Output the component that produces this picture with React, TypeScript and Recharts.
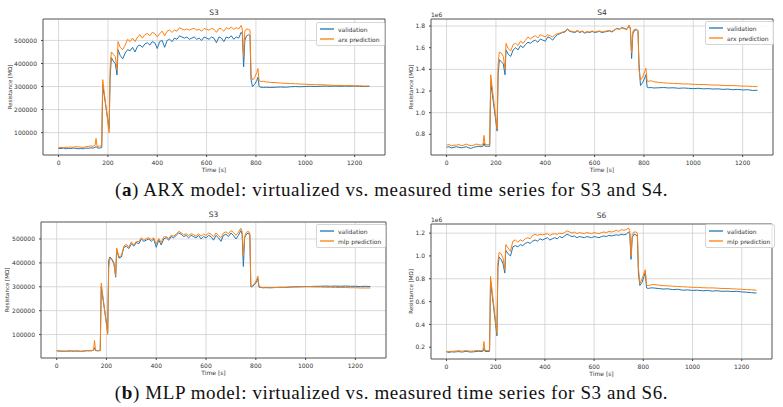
import React from 'react'
import {
  LineChart,
  Line,
  XAxis,
  YAxis,
  CartesianGrid,
  Legend,
  ReferenceArea
} from 'recharts'

// sample times [s], shared by all four panels
const times = [
  0, 10, 20, 30, 40, 50, 60, 70, 80, 90, 100, 110, 120, 130, 140,
  148, 152, 156, 165, 175, 179, 205, 209, 214, 222, 230, 237, 241,
  250, 260, 270, 280, 290, 300, 310, 320, 330, 340, 350, 360, 370, 380, 390,
  400, 410, 420, 430, 440, 450, 460, 470, 480, 490, 500, 510, 520, 530, 540,
  550, 560, 570, 580, 590, 600, 610, 620, 630, 640, 650, 660, 670, 680, 690,
  700, 710, 720, 730, 740,
  745, 750, 755, 762, 770, 776, 780, 786, 795, 803, 808, 813, 820, 830, 840,
  860, 880, 900, 920, 940, 960, 980, 1000, 1020, 1040, 1060, 1080, 1100, 1120,
  1140, 1160, 1180, 1200, 1220, 1240, 1260
]

// (a) ARX, S3
const arxS3Validation = [
  32000, 31000, 33000, 30000, 32000, 31000, 33000, 32000, 30000, 31000, 30000, 33000, 32000, 34000, 33000,
  36000, 40000, 34000, 33000, 35000, 305000, 118000, 340000, 425000, 410000, 400000, 350000, 460000,
  435000, 420000, 445000, 460000, 455000, 470000, 450000, 475000, 480000, 470000, 485000, 490000, 480000, 495000, 490000,
  465000, 495000, 500000, 470000, 500000, 505000, 495000, 510000, 505000, 520000, 515000, 510000, 515000, 505000, 510000,
  515000, 505000, 510000, 500000, 515000, 510000, 505000, 515000, 510000, 490000, 515000, 510000, 495000, 515000, 510000,
  520000, 505000, 515000, 510000, 535000,
  525000, 385000, 500000, 520000, 525000, 520000, 330000, 300000, 310000, 325000, 340000, 300000, 297000, 296000, 297000,
  296000, 297000, 298000, 297000, 299000, 300000, 299000, 300000, 301000, 300000, 301000, 302000, 301000, 302000,
  301000, 302000, 301000, 302000, 301000, 300000, 301000
]
const arxS3Prediction = [
  35000, 36000, 35000, 37000, 36000, 38000, 37000, 39000, 38000, 37000, 36000, 39000, 40000, 42000, 41000,
  45000, 75000, 40000, 42000, 42000, 330000, 100000, 380000, 450000, 440000, 430000, 370000, 495000,
  470000, 460000, 480000, 505000, 495000, 510000, 495000, 515000, 525000, 510000, 525000, 530000, 520000, 535000, 530000,
  515000, 530000, 540000, 520000, 540000, 545000, 535000, 545000, 540000, 555000, 550000, 545000, 550000, 545000, 550000,
  552000, 545000, 548000, 540000, 552000, 548000, 545000, 552000, 548000, 535000, 552000, 550000, 540000, 555000, 550000,
  558000, 548000, 555000, 550000, 565000,
  545000, 430000, 540000, 550000, 548000, 545000, 350000, 328000, 340000, 360000, 378000, 325000, 322000, 323000, 320000,
  318000, 317000, 315000, 314000, 313000, 312000, 311000, 310000, 309000, 308000, 308000, 307000, 306000, 305000,
  305000, 304000, 304000, 303000, 303000, 302000, 302000
]

// (a) ARX, S4 (x1e6)
const arxS4Validation = [
  0.68, 0.685, 0.675, 0.68, 0.685, 0.68, 0.675, 0.68, 0.685, 0.675, 0.67, 0.68, 0.685, 0.69, 0.685,
  0.69, 0.72, 0.69, 0.69, 0.69, 1.28, 0.83, 1.35, 1.49, 1.47, 1.45, 1.35, 1.58,
  1.54, 1.52, 1.58, 1.6, 1.58, 1.62, 1.6, 1.63, 1.65, 1.64, 1.66, 1.67, 1.65, 1.68, 1.67,
  1.66, 1.7, 1.69, 1.67, 1.7, 1.72, 1.73, 1.74, 1.745, 1.77, 1.75, 1.745, 1.74, 1.755, 1.74,
  1.75, 1.735, 1.745, 1.74, 1.75, 1.74, 1.745, 1.75, 1.74, 1.745, 1.75, 1.755, 1.745, 1.76, 1.78,
  1.77, 1.785, 1.78, 1.77, 1.8,
  1.78, 1.5, 1.73, 1.76, 1.765, 1.75, 1.45, 1.25, 1.28, 1.32, 1.35, 1.235, 1.23, 1.232, 1.228,
  1.23, 1.232, 1.228, 1.23, 1.225, 1.228, 1.225, 1.222, 1.225, 1.22, 1.222, 1.218, 1.22, 1.215,
  1.218, 1.212, 1.215, 1.21, 1.212, 1.205, 1.207
]
const arxS4Prediction = [
  0.7, 0.705, 0.695, 0.7, 0.7, 0.705, 0.695, 0.7, 0.71, 0.7, 0.695, 0.7, 0.71, 0.705, 0.7,
  0.71, 0.79, 0.705, 0.705, 0.71, 1.35, 0.85, 1.45, 1.56, 1.55, 1.52, 1.4, 1.64,
  1.59, 1.57, 1.63, 1.64, 1.62, 1.66, 1.64, 1.67, 1.7, 1.68, 1.7, 1.71, 1.69, 1.72, 1.71,
  1.7, 1.72, 1.71, 1.7, 1.72, 1.73, 1.735, 1.745, 1.75, 1.775, 1.755, 1.75, 1.745, 1.76, 1.745,
  1.755, 1.74, 1.75, 1.745, 1.755, 1.745, 1.75, 1.755, 1.745, 1.75, 1.755, 1.76, 1.75, 1.765, 1.775,
  1.77, 1.78, 1.775, 1.765, 1.81,
  1.77, 1.55, 1.75, 1.77, 1.77, 1.76, 1.4, 1.3, 1.33, 1.38, 1.41, 1.29, 1.29, 1.295, 1.285,
  1.28, 1.275, 1.272, 1.27, 1.268, 1.265, 1.265, 1.262, 1.26, 1.26, 1.258, 1.255, 1.255, 1.252,
  1.25, 1.25, 1.248, 1.245, 1.245, 1.242, 1.24
]

// (b) MLP, S3
const mlpS3Validation = [
  32000, 31000, 30000, 31000, 30000, 32000, 31000, 30000, 32000, 31000, 30000, 31000, 33000, 32000, 33000,
  34000, 45000, 33000, 32000, 33000, 300000, 110000, 410000, 425000, 415000, 400000, 340000, 455000,
  420000, 425000, 465000, 470000, 460000, 480000, 470000, 485000, 480000, 500000, 490000, 495000, 500000, 490000, 500000,
  465000, 495000, 475000, 500000, 505000, 495000, 510000, 505000, 515000, 525000, 520000, 510000, 515000, 505000, 515000,
  510000, 505000, 515000, 500000, 510000, 505000, 515000, 510000, 495000, 515000, 505000, 490000, 515000, 520000, 510000,
  525000, 515000, 500000, 515000, 535000,
  520000, 385000, 505000, 520000, 525000, 515000, 300000, 300000, 310000, 320000, 335000, 298000, 297000, 296000, 297000,
  296000, 297000, 298000, 297000, 299000, 300000, 300000, 301000, 301000, 302000, 302000, 303000, 302000, 303000,
  302000, 303000, 302000, 302000, 301000, 302000, 301000
]
const mlpS3Prediction = [
  33000, 32000, 31000, 30000, 31000, 30000, 32000, 31000, 30000, 29000, 30000, 31000, 32000, 33000, 32000,
  35000, 75000, 35000, 33000, 34000, 315000, 100000, 380000, 420000, 410000, 395000, 345000, 462000,
  425000, 430000, 470000, 478000, 465000, 488000, 475000, 490000, 488000, 505000, 495000, 502000, 505000, 498000, 505000,
  478000, 502000, 485000, 508000, 510000, 502000, 515000, 512000, 520000, 532000, 526000, 518000, 522000, 515000, 522000,
  518000, 512000, 522000, 512000, 520000, 515000, 525000, 520000, 510000, 525000, 515000, 505000, 525000, 530000, 522000,
  535000, 528000, 515000, 528000, 545000,
  530000, 430000, 510000, 528000, 532000, 525000, 305000, 302000, 315000, 328000, 345000, 300000, 298000, 296000, 296000,
  296000, 297000, 297000, 298000, 299000, 299000, 300000, 300000, 300000, 299000, 299000, 298000, 298000, 297000,
  297000, 297000, 296000, 296000, 295000, 295000, 295000
]

// (b) MLP, S6 (x1e6)
const mlpS6Validation = [
  0.16, 0.155, 0.16, 0.158, 0.16, 0.162, 0.158, 0.16, 0.165, 0.16, 0.158, 0.16, 0.162, 0.165, 0.163,
  0.165, 0.19, 0.165, 0.162, 0.165, 0.78, 0.3, 0.9, 0.99, 0.97, 0.93, 0.85, 1.05,
  1.02, 1.0, 1.08, 1.09, 1.08, 1.1, 1.09, 1.11, 1.12, 1.11, 1.13, 1.14, 1.13, 1.15, 1.14,
  1.15, 1.16, 1.14, 1.15, 1.16, 1.15, 1.17, 1.16, 1.175, 1.19, 1.18, 1.17, 1.175, 1.16, 1.17,
  1.165, 1.16, 1.17, 1.165, 1.16, 1.17, 1.165, 1.16, 1.17, 1.175, 1.17, 1.18, 1.175, 1.18, 1.185,
  1.18, 1.19, 1.185, 1.19, 1.21,
  1.19, 0.97, 1.16, 1.19, 1.185, 1.17, 0.85, 0.74, 0.77, 0.82, 0.86, 0.72, 0.715, 0.72, 0.72,
  0.715, 0.71, 0.712, 0.705, 0.708, 0.7, 0.702, 0.698, 0.7, 0.695, 0.698, 0.692, 0.695, 0.69,
  0.692, 0.688, 0.69, 0.685, 0.682, 0.678, 0.675
]
const mlpS6Prediction = [
  0.165, 0.162, 0.165, 0.165, 0.168, 0.17, 0.165, 0.168, 0.17, 0.168, 0.165, 0.168, 0.17, 0.172, 0.17,
  0.172, 0.25, 0.172, 0.17, 0.172, 0.82, 0.32, 0.95, 1.03, 1.02, 0.98, 0.88, 1.1,
  1.07, 1.04, 1.13, 1.14, 1.12, 1.14, 1.13, 1.15, 1.16, 1.15, 1.18, 1.19, 1.18, 1.19, 1.185,
  1.19, 1.195, 1.18, 1.19, 1.195, 1.19, 1.2, 1.195, 1.205, 1.22, 1.21, 1.2, 1.21, 1.195, 1.205,
  1.2, 1.195, 1.205, 1.2, 1.195, 1.205, 1.2, 1.195, 1.205, 1.21, 1.205, 1.215, 1.21, 1.215, 1.225,
  1.215, 1.23, 1.225, 1.23, 1.245,
  1.22, 1.0, 1.19, 1.21, 1.21, 1.2, 0.9, 0.76, 0.8, 0.85, 0.88, 0.745, 0.74, 0.745, 0.75,
  0.745, 0.74, 0.738, 0.735, 0.732, 0.73, 0.728, 0.725, 0.725, 0.722, 0.72, 0.72, 0.718, 0.715,
  0.715, 0.712, 0.71, 0.708, 0.705, 0.703, 0.7
]

const timeTicks = [0, 200, 400, 600, 800, 1000, 1200]
const s3Ticks = [100000, 200000, 300000, 400000, 500000]
const s4Ticks = [0.8, 1.0, 1.2, 1.4, 1.6, 1.8]
const s6Ticks = [0.2, 0.4, 0.6, 0.8, 1.0, 1.2]

const BLUE = '#1f77b4'
const ORANGE = '#ff7f0e'
const FONT = '"DejaVu Sans", sans-serif'
const TEXT = '#333'
const X_DOMAIN: [number, number] = [-63, 1323]
const Y_AXIS_W = 30
const X_AXIS_H = 14

interface Row {
  t: number
  validation: number
  prediction: number
}

function buildRows(validation: number[], prediction: number[]): Row[] {
  return times.map((t, i) => ({ t, validation: validation[i], prediction: prediction[i] }))
}

function LegendBox({ payload }: any) {
  // matplotlib keeps plotting order: validation first
  const items = [...(payload || [])].sort((a: any, b: any) =>
    (a.dataKey === 'validation' ? 0 : 1) - (b.dataKey === 'validation' ? 0 : 1)
  )
  return (
    <div
      style={{
        border: '1px solid #d6d6d6',
        borderRadius: 2,
        background: 'rgba(255,255,255,0.85)',
        padding: '1px 4px 1px 3px',
        fontFamily: FONT
      }}
    >
      {items.map((entry: any) => (
        <div key={entry.value} style={{ display: 'flex', alignItems: 'center', height: 10 }}>
          <svg width={14} height={4} style={{ marginRight: 4, display: 'block' }}>
            <line
              x1={0}
              y1={2}
              x2={14}
              y2={2}
              stroke={entry.dataKey === 'validation' ? BLUE : ORANGE}
              strokeWidth={1.3}
            />
          </svg>
          <span style={{ fontSize: 6, color: TEXT, lineHeight: '9px' }}>{entry.value}</span>
        </div>
      ))}
    </div>
  )
}

interface PanelProps {
  title: string
  rows: Row[]
  predictionName: string
  yDomain: [number, number]
  yTicks: number[]
  scaled?: boolean
  left: number
  top: number
  width: number
  height: number
  plot: { top: number; right: number; bottom: number; left: number }
  titleY: number
  yLabelX: number
  legendAt: { left: number; top: number }
}

function Panel(p: PanelProps) {
  const plotW = p.width - p.plot.left - p.plot.right
  const margin = {
    top: p.plot.top,
    right: p.plot.right,
    bottom: p.plot.bottom - X_AXIS_H,
    left: p.plot.left - Y_AXIS_W
  }
  const tickStyle = { fontSize: 6, fill: TEXT, fontFamily: FONT }
  return (
    <div style={{ position: 'absolute', left: p.left, top: p.top, width: p.width, height: p.height }}>
      <div
        style={{
          position: 'absolute',
          left: p.plot.left,
          width: plotW,
          top: p.titleY - 5,
          lineHeight: '10px',
          textAlign: 'center',
          fontSize: 7.5,
          fontFamily: FONT,
          color: TEXT
        }}
      >
        {p.title}
      </div>
      {p.scaled && (
        <div
          style={{
            position: 'absolute',
            left: p.plot.left,
            top: p.plot.top - 8,
            lineHeight: '7px',
            fontSize: 6,
            fontFamily: FONT,
            color: TEXT
          }}
        >
          1e6
        </div>
      )}
      <LineChart width={p.width} height={p.height} data={p.rows} margin={margin}>
        <CartesianGrid stroke="#d0d0d0" strokeWidth={0.8} />
        <XAxis
          dataKey="t"
          type="number"
          domain={X_DOMAIN}
          ticks={timeTicks}
          allowDataOverflow
          height={X_AXIS_H}
          tickSize={2}
          tickMargin={4}
          tick={tickStyle}
          axisLine={false}
          tickLine={{ stroke: '#444' }}
          label={{
            value: 'Time [s]',
            position: 'bottom',
            offset: 13 - X_AXIS_H,
            style: { fontSize: 6, fill: TEXT, fontFamily: FONT }
          }}
        />
        <YAxis
          type="number"
          domain={p.yDomain}
          ticks={p.yTicks}
          allowDataOverflow
          width={Y_AXIS_W}
          tickSize={2}
          tickMargin={4}
          tick={tickStyle}
          axisLine={false}
          tickLine={{ stroke: '#444' }}
          tickFormatter={(v: number) => (p.scaled ? v.toFixed(1) : String(v))}
          label={{
            value: 'Resistance [MΩ]',
            angle: -90,
            position: 'insideLeft',
            offset: p.yLabelX - margin.left,
            style: { fontSize: 5.5, fill: TEXT, fontFamily: FONT, textAnchor: 'middle' }
          }}
        />
        <ReferenceArea
          x1={X_DOMAIN[0]}
          x2={X_DOMAIN[1]}
          y1={p.yDomain[0]}
          y2={p.yDomain[1]}
          fill="none"
          stroke="#555"
          strokeWidth={0.9}
        />
        <Line
          dataKey="validation"
          name="validation"
          stroke={BLUE}
          strokeWidth={1}
          dot={false}
          isAnimationActive={false}
        />
        <Line
          dataKey="prediction"
          name={p.predictionName}
          stroke={ORANGE}
          strokeWidth={1}
          dot={false}
          isAnimationActive={false}
        />
        <Legend
          layout="vertical"
          align="center"
          verticalAlign="middle"
          content={<LegendBox />}
          wrapperStyle={{ left: p.legendAt.left, top: p.legendAt.top, width: 'auto' }}
        />
      </LineChart>
    </div>
  )
}

const captionStyle: React.CSSProperties = {
  position: 'absolute',
  left: 0,
  width: 783,
  textAlign: 'center',
  fontFamily: '"Liberation Serif", serif',
  fontSize: 19,
  letterSpacing: 0.6,
  lineHeight: '20px',
  color: '#111'
}

export default function App() {
  return (
    <div
      style={{
        position: 'absolute',
        left: 0,
        top: 0,
        width: 783,
        height: 407,
        background: '#fff',
        overflow: 'hidden'
      }}
    >
      <Panel
        title="S3"
        rows={buildRows(arxS3Validation, arxS3Prediction)}
        predictionName="arx prediction"
        yDomain={[3000, 593000]}
        yTicks={s3Ticks}
        left={0}
        top={0}
        width={392}
        height={180}
        plot={{ top: 19, right: 7, bottom: 25, left: 43 }}
        titleY={13}
        yLabelX={10}
        legendAt={{ left: 316, top: 22 }}
      />
      <Panel
        title="S4"
        rows={buildRows(arxS4Validation, arxS4Prediction)}
        predictionName="arx prediction"
        yDomain={[0.609, 1.865]}
        yTicks={s4Ticks}
        scaled
        left={392}
        top={0}
        width={391}
        height={180}
        plot={{ top: 19, right: 10, bottom: 25, left: 39 }}
        titleY={13}
        yLabelX={19}
        legendAt={{ left: 313, top: 21 }}
      />
      <div style={{ ...captionStyle, top: 180 }}>
        (<b>a</b>) ARX model: virtualized vs. measured time series for S3 and S4.
      </div>
      <Panel
        title="S3"
        rows={buildRows(mlpS3Validation, mlpS3Prediction)}
        predictionName="mlp prediction"
        yDomain={[2000, 571000]}
        yTicks={s3Ticks}
        left={0}
        top={200}
        width={392}
        height={180}
        plot={{ top: 22, right: 6, bottom: 22, left: 41 }}
        titleY={15}
        yLabelX={7}
        legendAt={{ left: 316, top: 24 }}
      />
      <Panel
        title="S6"
        rows={buildRows(mlpS6Validation, mlpS6Prediction)}
        predictionName="mlp prediction"
        yDomain={[0.097, 1.28]}
        yTicks={s6Ticks}
        scaled
        left={392}
        top={200}
        width={391}
        height={180}
        plot={{ top: 24, right: 11, bottom: 21, left: 39 }}
        titleY={16}
        yLabelX={19}
        legendAt={{ left: 313, top: 24 }}
      />
      <div style={{ ...captionStyle, top: 383 }}>
        (<b>b</b>) MLP model: virtualized vs. measured time series for S3 and S6.
      </div>
    </div>
  )
}
